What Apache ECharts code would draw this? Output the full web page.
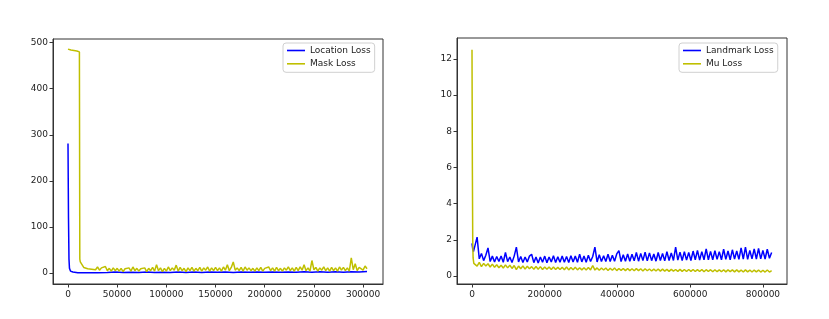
<!DOCTYPE html>
<html><head><meta charset="utf-8">
<script src="https://cdn.jsdelivr.net/npm/echarts@6/dist/echarts.min.js"></script>
<style>html,body{margin:0;padding:0;background:#fff}#c{width:829px;height:319px}</style>
</head><body><div id="c"></div>
<script>
// ---- Left chart data ----
const locationHeadX = [0, 500, 1000, 1500, 2500, 5000, 10000, 20000, 30000];
const locationHeadY = [281, 120, 30, 10, 4, 2, 0.5, 0.4, 0.6];
const locationNoiseStart = 40000, locationNoiseStep = 8000;
const locationNoise = [0.8,1.8,0.9,1.6,1.0,1.9,1.1,1.7,1.0,2.0,
  1.2,1.9,1.1,2.1,1.3,2.0,1.2,2.2,1.4,2.1,
  1.3,2.3,1.5,2.2,1.4,2.5,1.6,2.4,1.5,2.6,
  1.7,2.7,1.8,3.0];

const maskHeadX = [0, 3000, 6000, 9000, 11000, 11600, 12000, 12500, 13000];
const maskHeadY = [486, 484, 483, 482, 482, 480, 30, 24, 20];
const maskNoiseStart = 14000, maskNoiseStep = 2000;
const maskNoise = [20,12,15,9,13,8,12,7,13,6,11,7,14,5,10,4,11,5,10,
  4,10,3,9,5,11,4,13,5,10,
  4,9,5,11,3,10,5,12,4,18,
  5,11,3,10,4,13,5,11,6,17,
  4,12,5,10,3,11,5,12,4,10,
  5,12,4,11,6,13,4,11,5,12,
  5,11,4,13,6,18,5,12,24,6,
  11,5,12,4,13,6,11,5,10,4,
  11,5,12,4,10,6,13,5,11,4,
  12,5,10,4,11,6,13,5,11,4,
  12,5,13,6,18,5,11,4,27,7,
  12,4,11,6,13,5,11,4,12,5,
  11,4,13,6,12,5,11,4,33,7,
  20,5,12,14,6,15,9];

const leftXTicks = [0, 50000, 100000, 150000, 200000, 250000, 300000];
const leftYTicks = [0, 100, 200, 300, 400, 500];

// ---- Right chart data ----
const landmarkHeadX = [0, 2000, 4000];
const landmarkHeadY = [1.8, 1.5, 1.35];
const landmarkNoiseStart = 8000, landmarkNoiseStep = 6000;
const landmarkNoise = [1.35,2.15,0.95,1.25,0.85,1.15,1.55,0.8,1.1,0.78,
  1.08,0.8,1.1,0.76,1.3,0.8,1.05,0.75,1.1,1.6,
  0.78,1.08,0.75,1.05,0.78,1.1,1.2,0.74,1.05,0.72,
  1.05,0.76,1.1,0.74,1.05,0.78,1.12,0.75,1.06,0.76,
  1.1,0.76,1.08,0.75,1.12,0.78,1.1,0.76,1.2,0.78,
  1.1,0.76,1.15,0.8,1.08,1.6,0.78,1.18,0.8,1.12,
  0.8,1.2,0.8,1.15,0.82,1.22,1.4,0.8,1.18,0.82,
  1.22,0.82,1.2,0.84,1.3,0.82,1.25,0.85,1.32,0.84,
  1.28,0.85,1.22,0.82,1.3,0.86,1.25,0.84,1.35,0.86,
  1.28,0.86,1.6,0.88,1.32,0.86,1.35,0.88,1.3,0.86,
  1.38,0.9,1.42,0.88,1.35,0.9,1.5,0.9,1.36,0.9,
  1.4,0.92,1.35,0.9,1.48,0.92,1.38,0.9,1.45,0.94,
  1.38,0.92,1.55,0.94,1.6,0.92,1.42,0.95,1.5,0.94,
  1.52,0.95,1.42,0.94,1.48,0.98,1.3];

const muHeadX = [0, 1000, 2000, 3000, 5000];
const muHeadY = [12.5, 6, 2, 1, 0.7];
const muNoiseStart = 8000, muNoiseStep = 6000;
const muNoise = [0.72,0.55,0.75,0.52,0.7,0.55,0.68,0.5,0.66,0.48,
  0.62,0.46,0.6,0.44,0.62,0.45,0.6,0.42,0.58,0.36,
  0.55,0.4,0.56,0.38,0.54,0.4,0.52,0.38,0.53,0.38,
  0.52,0.36,0.5,0.37,0.5,0.36,0.5,0.36,0.48,0.36,
  0.48,0.35,0.5,0.34,0.47,0.35,0.48,0.34,0.46,0.34,
  0.46,0.33,0.47,0.34,0.58,0.33,0.45,0.32,0.44,0.33,
  0.44,0.31,0.43,0.32,0.45,0.3,0.42,0.31,0.42,0.3,
  0.42,0.3,0.4,0.29,0.41,0.3,0.4,0.28,0.4,0.29,
  0.39,0.28,0.38,0.28,0.39,0.27,0.38,0.27,0.37,0.26,
  0.37,0.27,0.36,0.26,0.37,0.26,0.36,0.25,0.36,0.26,
  0.36,0.25,0.35,0.25,0.36,0.24,0.35,0.25,0.35,0.24,
  0.35,0.24,0.34,0.24,0.35,0.23,0.34,0.24,0.34,0.23,
  0.34,0.23,0.33,0.22,0.34,0.23,0.33,0.22,0.33,0.23,
  0.33,0.22,0.32,0.22,0.33,0.22,0.3];

const rightXTicks = [0, 200000, 400000, 600000, 800000];
const rightYTicks = [0, 2, 4, 6, 8, 10, 12];

function build(hx, hy, start, step, vals) {
  const out = hx.map((x, i) => [x, hy[i]]);
  vals.forEach((v, i) => out.push([start + i * step, v]));
  return out;
}

const BLUE = '#0000ff', YEL = '#bfbf00';
const FONT = 'DejaVu Sans';
const lbl = {fontFamily: FONT, fontSize: 9, color: '#222'};

function axisDef(gi, min, max, ticks, margin) {
  return {type: 'value', gridIndex: gi, min, max, splitLine: {show: false},
    axisLine: {show: true, onZero: false, lineStyle: {color: '#333'}},
    axisTick: {show: true, length: 3.5, customValues: ticks, lineStyle: {color: '#333'}},
    axisLabel: Object.assign({margin, customValues: ticks, formatter: v => String(v)}, lbl)};
}
function line(name, gi, data, color) {
  return {name, type: 'line', xAxisIndex: gi, yAxisIndex: gi, data, showSymbol: false,
    symbol: 'none', animation: false, sampling: null, lineStyle: {color, width: 1.5}, itemStyle: {color}};
}
const legendBase = {orient: 'vertical', icon: 'rect', itemWidth: 18, itemHeight: 1.6,
  itemGap: 2.3, borderColor: '#d0d0d0', borderWidth: 1, borderRadius: 3,
  backgroundColor: 'rgba(255,255,255,0.8)', padding: [2, 4, 3, 4],
  textStyle: {fontFamily: FONT, fontSize: 9, color: '#222', lineHeight: 11}};

const chart = echarts.init(document.getElementById('c'), null, {renderer: 'canvas'});
chart.setOption({
  animation: false,
  backgroundColor: '#fff',
  grid: [
    {left: 53, top: 39, width: 330, height: 245, show: true, borderColor: '#333', borderWidth: 1, backgroundColor: 'transparent'},
    {left: 457, top: 38, width: 330, height: 246, show: true, borderColor: '#333', borderWidth: 1, backgroundColor: 'transparent'}
  ],
  xAxis: [axisDef(0, -15250, 320250, leftXTicks, 6), axisDef(1, -41250, 866250, rightXTicks, 6)],
  yAxis: [axisDef(0, -24, 508, leftYTicks, 5), axisDef(1, -0.44, 13.15, rightYTicks, 5)],
  legend: [
    Object.assign({}, legendBase, {left: 283, top: 43, data: ['Location Loss', 'Mask Loss']}),
    Object.assign({}, legendBase, {left: 679, top: 43, data: ['Landmark Loss', 'Mu Loss']})
  ],
  series: [
    line('Location Loss', 0, build(locationHeadX, locationHeadY, locationNoiseStart, locationNoiseStep, locationNoise), BLUE),
    line('Mask Loss', 0, build(maskHeadX, maskHeadY, maskNoiseStart, maskNoiseStep, maskNoise), YEL),
    line('Landmark Loss', 1, build(landmarkHeadX, landmarkHeadY, landmarkNoiseStart, landmarkNoiseStep, landmarkNoise), BLUE),
    line('Mu Loss', 1, build(muHeadX, muHeadY, muNoiseStart, muNoiseStep, muNoise), YEL)
  ]
});
</script></body></html>
